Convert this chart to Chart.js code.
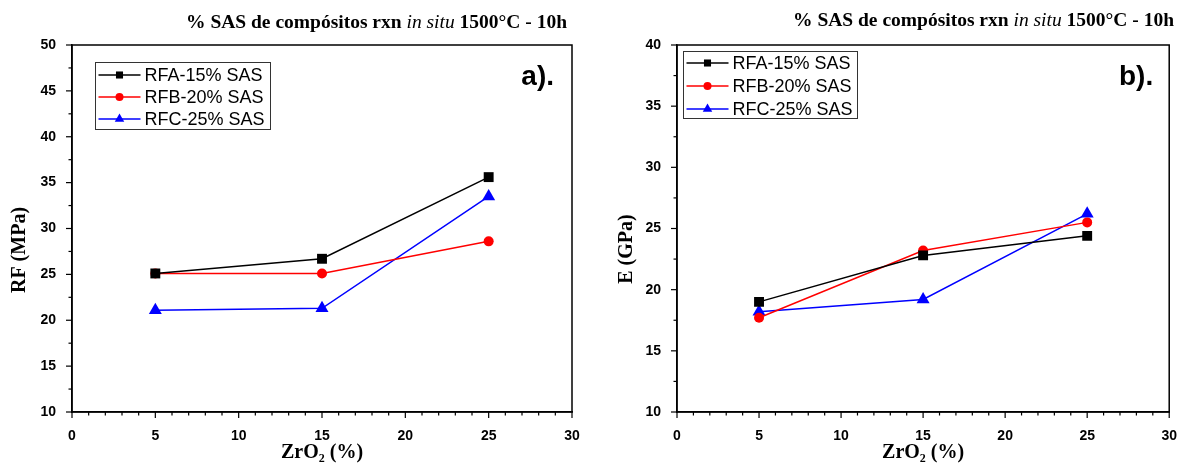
<!DOCTYPE html>
<html>
<head>
<meta charset="utf-8">
<script src="https://cdn.jsdelivr.net/npm/chart.js@4.4.1/dist/chart.umd.min.js"></script>
<style>
  body { margin: 0; background: #fff; }
  #wrap { position: relative; width: 1185px; height: 465px; }
  #c1 { position: absolute; left: 0; top: 0; }
  #c2 { position: absolute; left: 600px; top: 0; }
</style>
</head>
<body>
<div id="wrap">
  <canvas id="c1" width="595" height="465"></canvas>
  <canvas id="c2" width="585" height="465"></canvas>
</div>
<script>
// data
const zrO2 = [5, 15, 25];
const seriesNames = ['RFA-15% SAS', 'RFB-20% SAS', 'RFC-25% SAS'];
const rfA = [25.1, 26.7, 35.6];
const rfB = [25.1, 25.1, 28.6];
const rfC = [21.1, 21.3, 33.5];
const eA = [19.0, 22.8, 24.4];
const eB = [17.7, 23.2, 25.5];
const eC = [18.2, 19.2, 26.2];
const xTicks = [0, 5, 10, 15, 20, 25, 30];
const rfTicks = [10, 15, 20, 25, 30, 35, 40, 45, 50];
const eTicks = [10, 15, 20, 25, 30, 35, 40];

const colors = ['#000000', '#ff0000', '#0000ff'];
const shapes = ['rect', 'circle', 'triangle'];
const radii = [7, 5, 7.5];
const legendRadii = [5, 4, 5.5];

function makeSets(list) {
  return list.map((vals, i) => ({
    label: seriesNames[i],
    data: zrO2.map((x, j) => ({ x: x, y: vals[j] })),
    borderColor: colors[i],
    backgroundColor: colors[i],
    pointStyle: shapes[i],
    pointRadius: radii[i],
    pointBorderWidth: 0,
    borderWidth: 1.5,
    order: i
  }));
}

// ticks, frame, legend, titles and panel tag
const decor = {
  id: 'decor',
  afterDraw(chart, args, o) {
    const ctx = chart.ctx;
    const a = chart.chartArea;
    ctx.save();
    ctx.strokeStyle = '#000';
    ctx.lineWidth = 1.5;
    ctx.strokeRect(a.left, a.top, a.right - a.left, a.bottom - a.top);

    // tick marks
    ctx.lineWidth = 1.2;
    const xs = chart.scales.x, ys = chart.scales.y;
    xs.ticks.forEach(t => {
      const px = xs.getPixelForValue(t.value);
      const len = t.value % 5 === 0 ? 6 : 3.5;
      ctx.beginPath(); ctx.moveTo(px, a.bottom); ctx.lineTo(px, a.bottom + len); ctx.stroke();
    });
    ys.ticks.forEach(t => {
      const py = ys.getPixelForValue(t.value);
      const len = t.value % 5 === 0 ? 6 : 3.5;
      ctx.beginPath(); ctx.moveTo(a.left, py); ctx.lineTo(a.left - len, py); ctx.stroke();
    });

    // title with italic part
    const parts = [
      ['bold 19.5px "Liberation Serif"', '% SAS de compósitos rxn '],
      ['italic 19.5px "Liberation Serif"', 'in situ'],
      ['bold 19.5px "Liberation Serif"', ' 1500°C - 10h']
    ];
    let tx = o.titleX;
    ctx.fillStyle = '#000';
    ctx.textBaseline = 'alphabetic';
    ctx.textAlign = 'left';
    parts.forEach(p => {
      ctx.font = p[0];
      ctx.fillText(p[1], tx, o.titleY);
      tx += ctx.measureText(p[1]).width;
    });

    // y axis title
    ctx.save();
    ctx.translate(o.yTitleX, o.yTitleY);
    ctx.rotate(-Math.PI / 2);
    ctx.textAlign = 'center';
    ctx.textBaseline = 'middle';
    ctx.font = 'bold 20px "Liberation Serif"';
    ctx.fillText(o.yTitle, 0, 0);
    ctx.restore();

    // panel tag
    ctx.font = 'bold 28px "Liberation Sans"';
    ctx.textAlign = 'right';
    ctx.fillText(o.tag, a.right - o.tagDx, a.top + 40);

    // legend box
    const lx = o.legX, ly = o.legY;
    ctx.lineWidth = 1;
    ctx.strokeStyle = '#333';
    ctx.strokeRect(lx, ly, o.legW, o.legH);
    ctx.font = '18px "Liberation Sans"';
    ctx.textAlign = 'left';
    ctx.textBaseline = 'middle';
    chart.data.datasets.forEach((ds, i) => {
      const cy = ly + o.rowTop + i * o.rowGap;
      ctx.strokeStyle = ds.borderColor;
      ctx.lineWidth = 1.5;
      ctx.beginPath(); ctx.moveTo(lx + 3, cy); ctx.lineTo(lx + 45, cy); ctx.stroke();
      ctx.fillStyle = ds.backgroundColor;
      Chart.helpers.drawPoint(ctx, { pointStyle: ds.pointStyle, radius: legendRadii[i], borderWidth: 0 }, lx + 24, cy);
      ctx.fillStyle = '#000';
      ctx.fillText(ds.label, lx + 49, cy + 1);
    });
    ctx.restore();
  }
};

function makeChart(id, sets, yTicks, yWidth, padRight, xTitleH, deco) {
  const tickFont = { family: 'Liberation Sans', weight: 'bold', size: 14 };
  return new Chart(document.getElementById(id), {
    type: 'line',
    data: { datasets: sets },
    plugins: [decor],
    options: {
      responsive: false,
      animation: false,
      layout: { padding: { top: 45, right: padRight, left: 0, bottom: 0 } },
      plugins: { legend: { display: false }, tooltip: { enabled: false }, decor: deco },
      scales: {
        x: {
          type: 'linear',
          min: xTicks[0], max: xTicks[xTicks.length - 1],
          afterFit: s => { s.height = 53; },
          grid: { display: false },
          border: { display: true, color: '#000', width: 1.5 },
          ticks: {
            stepSize: 1, autoSkip: false, maxRotation: 0, padding: 8,
            color: '#000', font: tickFont,
            callback: v => xTicks.includes(v) ? v : ''
          },
          title: {
            display: true, text: 'ZrO₂ (%)', color: '#000',
            font: { family: 'Liberation Serif', weight: 'bold', size: 20 },
            padding: { top: xTitleH, bottom: 0 }
          }
        },
        y: {
          min: yTicks[0], max: yTicks[yTicks.length - 1],
          afterFit: s => { s.width = yWidth; },
          grid: { display: false },
          border: { display: true, color: '#000', width: 1.5 },
          ticks: {
            stepSize: 2.5, autoSkip: false, padding: 8,
            color: '#000', font: tickFont,
            callback: v => yTicks.includes(v) ? v : ''
          }
        }
      }
    }
  });
}

makeChart('c1', makeSets([rfA, rfB, rfC]), rfTicks, 72, 23, 0,
  { titleX: 186, titleY: 28, tag: 'a).', tagDx: 18, yTitle: 'RF (MPa)', yTitleX: 20, yTitleY: 250,
    legX: 95.5, legY: 62.5, legW: 175, legH: 67, rowTop: 12.5, rowGap: 22 });
makeChart('c2', makeSets([eA, eB, eC]), eTicks, 77, 9, 3,
  { titleX: 193, titleY: 26, tag: 'b).', tagDx: 16, yTitle: 'E (GPa)', yTitleX: 27, yTitleY: 249,
    legX: 83.5, legY: 51.5, legW: 174, legH: 67, rowTop: 11.5, rowGap: 23 });
</script>
</body>
</html>
